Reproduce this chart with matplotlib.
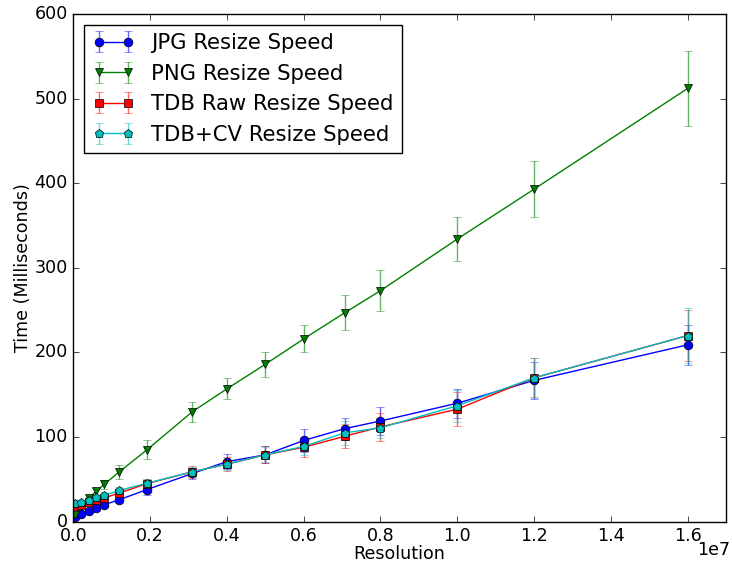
import matplotlib
matplotlib.use("Agg")
import matplotlib.pyplot as plt
from matplotlib.ticker import FuncFormatter
import numpy as np

plt.style.use('classic')

resolution = np.array([0.05, 0.2, 0.4, 0.6, 0.8, 1.2, 1.92, 3.1, 4.0, 5.0, 6.0, 7.07, 8.0, 10.0, 12.0, 16.0]) * 1e6

jpg_mean = [6, 9, 13, 16, 20, 26, 38, 57, 71, 79, 96, 110, 119, 140, 167, 209]
jpg_err = [2, 2, 2, 3, 3, 4, 6, 7, 9, 10, 14, 13, 16, 17, 22, 24]

png_mean = [8, 18, 28, 36, 44, 59, 85, 130, 157, 186, 216, 247, 273, 334, 393, 512]
png_err = [2, 3, 4, 4, 5, 8, 11, 12, 12.5, 15, 16, 21, 24, 26, 33, 44]

raw_mean = [19, 20, 23, 26, 28, 34, 45, 59, 68, 79, 88, 101, 112, 133, 170, 220]
raw_err = [3, 3, 3, 3, 4, 4, 6, 7, 8, 10, 12, 14, 17, 20, 23, 30]

cv_mean = [22, 23, 26, 29, 31, 37, 45.5, 59, 68, 79, 89, 105, 111, 137, 170, 220]
cv_err = [3, 3, 3, 3, 4, 4, 5, 6, 7, 9, 10, 14, 12, 19, 24, 32]

labels = ["JPG Resize Speed", "PNG Resize Speed", "TDB Raw Resize Speed", "TDB+CV Resize Speed"]
colors = ['b', 'g', 'r', 'c']
markers = ['o', 'v', 's', 'p']

fs = 12.6
fig = plt.figure(figsize=(7.32, 5.62), dpi=100, facecolor='white')
ax = fig.add_axes([73.3/732, (562-521.7)/562, 652.7/732, 507.7/562])

for m, e, c, mk, lab in zip([jpg_mean, png_mean, raw_mean, cv_mean],
                            [jpg_err, png_err, raw_err, cv_err],
                            colors, markers, labels):
    ax.errorbar(resolution, m, yerr=e, color=c, marker=mk, label=lab,
                ecolor=matplotlib.colors.to_rgba(c, 0.6), capsize=3,
                markersize=6.3, markeredgecolor='k', markeredgewidth=0.5)

ax.set_xlim(0, 1.7e7)
ax.set_ylim(0, 600)
ax.xaxis.set_major_formatter(FuncFormatter(lambda v, p: "%.1f" % (v / 1e7)))
ax.tick_params(labelsize=fs)
ax.set_xlabel("Resolution", fontsize=fs, labelpad=0)
ax.set_ylabel("Time (Milliseconds)", fontsize=fs, labelpad=2)
fig.text(730/732, (562-555)/562, "1e7", fontsize=fs, ha='right', va='baseline')
ax.legend(loc='upper left', numpoints=2, fontsize=15.2)

fig.savefig("out.png", dpi=100, facecolor='white')
